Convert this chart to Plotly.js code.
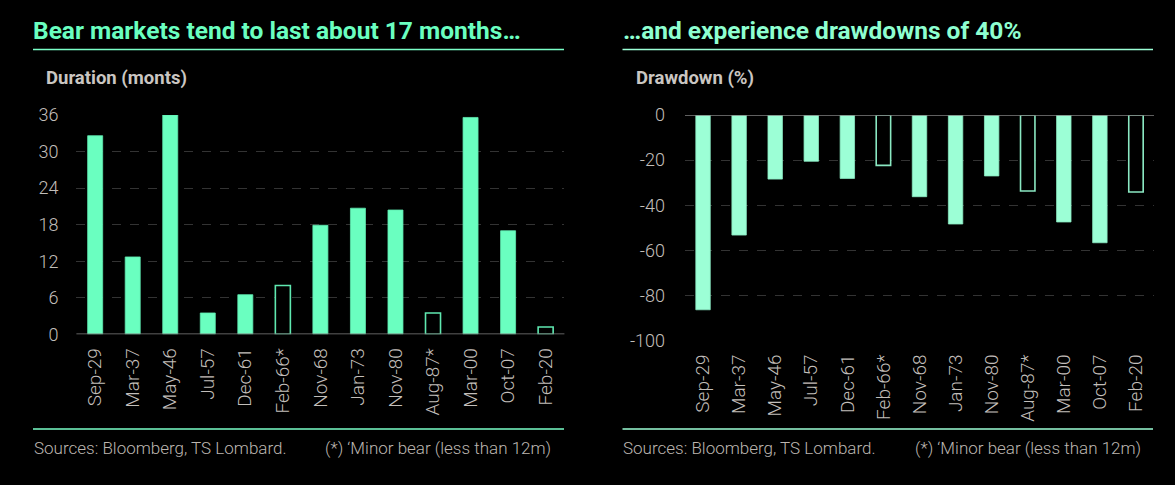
<!DOCTYPE html>
<html>
<head>
<meta charset="utf-8">
<script src="https://cdn.plot.ly/plotly-3.0.1.min.js"></script>
<style>
  html, body { margin: 0; padding: 0; background: #000; }
  #chart { width: 1175px; height: 485px; }
</style>
</head>
<body>
<div id="chart"></div>
<script>
// ---- data ----
const categories = ["Sep-29","Mar-37","May-46","Jul-57","Dec-61","Feb-66*","Nov-68","Jan-73","Nov-80","Aug-87*","Mar-00","Oct-07","Feb-20"];
const durationMonths = [32.6, 12.7, 36.0, 3.5, 6.5, 8.0, 17.9, 20.7, 20.4, 3.5, 35.6, 17.0, 1.2];
const drawdownPct = [-86.3, -53.2, -28.4, -20.5, -28.1, -22.3, -36.2, -48.3, -27.0, -33.7, -47.4, -56.6, -34.1];
const minorBear = [false, false, false, false, false, true, false, false, false, true, false, false, true];
const durationTicks = [0, 6, 12, 18, 24, 30, 36];
const drawdownTicks = [-100, -80, -60, -40, -20, 0];
const drawdownTickLabels = ["-100", "-80", "-60", "-40", "-20", "0"];

// ---- styles ----
const W = 1175, H = 485;
const px = v => v / W;
const py = v => 1 - v / H;
const leftFill = "#6affc0";
const rightFill = "#9cffd6";
const tickColor = "#c2beba";

function barTrace(vals, fill, edge, xa, ya) {
  return {
    type: "bar",
    x: categories,
    y: vals,
    xaxis: xa, yaxis: ya,
    width: 0.4,
    marker: {
      color: minorBear.map(m => m ? "#000000" : fill),
      line: { color: edge, width: minorBear.map(m => m ? 1.6 : 0.8) }
    },
    hoverinfo: "x+y",
    showlegend: false
  };
}

const traces = [
  barTrace(durationMonths, leftFill, "#5fe8b0", "x", "y"),
  barTrace(drawdownPct, rightFill, "#8ae8c2", "x2", "y2")
];

const tickFont = { family: "Roboto, sans-serif", size: 18, color: tickColor, weight: 300 };
const xTickFont = { family: "Roboto, sans-serif", size: 19, color: tickColor, weight: 300 };
const noteFont = { family: "Roboto, sans-serif", size: 17, color: "#bcb6b0", weight: 300 };
const titleSize = 24.5;

const layout = {
  width: W, height: H,
  paper_bgcolor: "#000", plot_bgcolor: "#000",
  margin: { l: 0, r: 0, t: 0, b: 0 },
  showlegend: false,
  xaxis: {
    domain: [px(76.4), px(564.4)], anchor: "y",
    type: "category", tickangle: -90, tickfont: xTickFont,
    showgrid: false, zeroline: false, showline: false, ticks: "",
    ticklabelstandoff: 9
  },
  yaxis: {
    domain: [py(334.3), py(115)], anchor: "x",
    range: [0, 36], tickvals: durationTicks, tickfont: tickFont,
    showgrid: true, gridcolor: "#333333", griddash: "dash", gridwidth: 1,
    zeroline: false, showline: false, ticks: "",
    ticklabelstandoff: 17
  },
  xaxis2: {
    domain: [px(685), px(1154)], anchor: "y2",
    type: "category", tickangle: -90, tickfont: xTickFont,
    showgrid: false, zeroline: false, showline: false, ticks: "",
    ticklabelstandoff: 9
  },
  yaxis2: {
    domain: [py(340.7), py(115)], anchor: "x2",
    range: [-100, 0], tickvals: drawdownTicks, ticktext: drawdownTickLabels, tickfont: tickFont,
    showgrid: true, gridcolor: "#333333", griddash: "dash", gridwidth: 1,
    zeroline: false, showline: false, ticks: "",
    ticklabelstandoff: 19
  },
  shapes: [
    { type: "line", xref: "x domain", yref: "y", x0: 0, x1: 1, y0: 0, y1: 0, line: { color: "#808080", width: 1.5 } },
    { type: "line", xref: "x2 domain", yref: "y2", x0: 0, x1: 1, y0: 0, y1: 0, line: { color: "#808080", width: 1.5 } },
    { type: "line", xref: "paper", yref: "paper", x0: px(33), x1: px(564), y0: py(49.5), y1: py(49.5), line: { color: "#7affc8", width: 1.5 } },
    { type: "line", xref: "paper", yref: "paper", x0: px(622.5), x1: px(1153), y0: py(49.5), y1: py(49.5), line: { color: "#9cffd6", width: 1.5 } },
    { type: "line", xref: "paper", yref: "paper", x0: px(33), x1: px(564), y0: py(429), y1: py(429), line: { color: "#7affc8", width: 1.5 } },
    { type: "line", xref: "paper", yref: "paper", x0: px(622.5), x1: px(1153), y0: py(429), y1: py(429), line: { color: "#9cffd6", width: 1.5 } }
  ],
  annotations: [
    { text: "<b>Bear markets tend to last about 17 months…</b>", xref: "paper", yref: "paper", x: px(31), y: py(31), xanchor: "left", yanchor: "middle", showarrow: false, font: { family: "Roboto, sans-serif", size: titleSize, color: "#6affc0" } },
    { text: "<b>…and experience drawdowns of 40%</b>", xref: "paper", yref: "paper", x: px(620.5), y: py(31), xanchor: "left", yanchor: "middle", showarrow: false, font: { family: "Roboto, sans-serif", size: titleSize, color: "#8effd0" } },
    { text: "<b>Duration (monts)</b>", xref: "paper", yref: "paper", x: px(43.5), y: py(78), xanchor: "left", yanchor: "middle", showarrow: false, font: { family: "Roboto, sans-serif", size: 18.5, color: "#cac6c2" } },
    { text: "<b>Drawdown (%)</b>", xref: "paper", yref: "paper", x: px(633.5), y: py(78), xanchor: "left", yanchor: "middle", showarrow: false, font: { family: "Roboto, sans-serif", size: 18.5, color: "#cac6c2" } },
    { text: "Sources: Bloomberg, TS Lombard.", xref: "paper", yref: "paper", x: px(31.5), y: py(448), xanchor: "left", yanchor: "middle", showarrow: false, font: noteFont },
    { text: "(*) ‘Minor bear (less than 12m)", xref: "paper", yref: "paper", x: px(553), y: py(448), xanchor: "right", yanchor: "middle", showarrow: false, font: noteFont },
    { text: "Sources: Bloomberg, TS Lombard.", xref: "paper", yref: "paper", x: px(621), y: py(448), xanchor: "left", yanchor: "middle", showarrow: false, font: noteFont },
    { text: "(*) ‘Minor bear (less than 12m)", xref: "paper", yref: "paper", x: px(1143), y: py(448), xanchor: "right", yanchor: "middle", showarrow: false, font: noteFont }
  ]
};

Plotly.newPlot("chart", traces, layout, { staticPlot: true, displayModeBar: false });
</script>
</body>
</html>
